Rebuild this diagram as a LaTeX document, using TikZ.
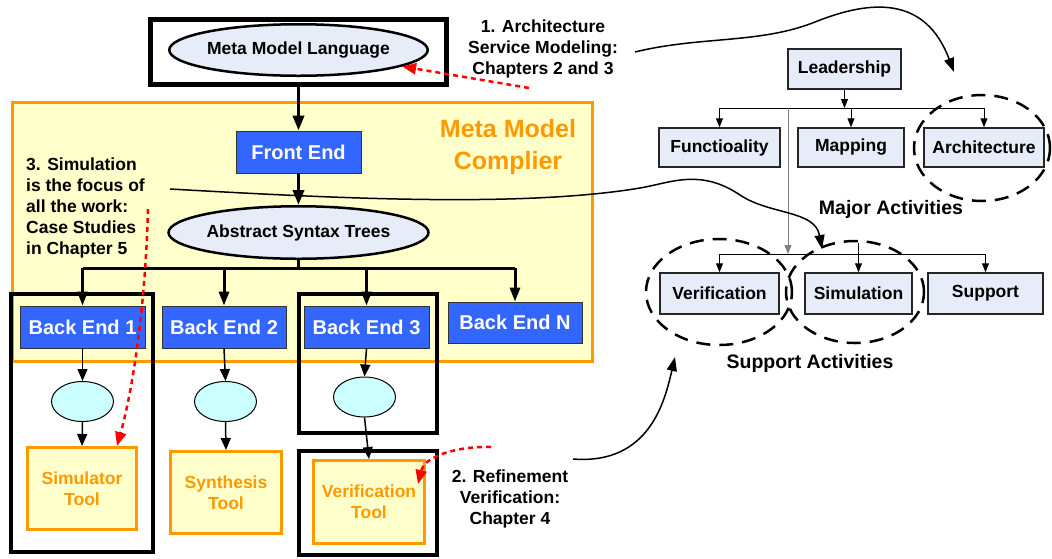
\documentclass[tikz,border=0pt]{standalone}
\usepackage{fontspec}
\setmainfont{Liberation Sans}
\usetikzlibrary{
    arrows.meta,
    shapes.geometric
}

\definecolor{boxgray}{RGB}{230,236,248}
\definecolor{beblue}{RGB}{51,102,255}
\definecolor{ovalcyan}{RGB}{204,255,255}
\definecolor{cmpyellow}{RGB}{255,255,204}
\definecolor{cmporange}{RGB}{255,153,0}

\begin{document}
\begin{tikzpicture}[x=1pt,y=-1pt,
    font=\bfseries\fontsize{17.5}{21}\selectfont,
    frame/.style={draw,line width=4.5pt,inner sep=0pt},
    bigoval/.style={ellipse,draw,line width=2.5pt,fill=boxgray,inner sep=0pt,minimum width=248.5pt},
    bluebox/.style={draw=black!80,line width=0.8pt,fill=beblue,text=white,inner sep=0pt,
        minimum height=42pt,font=\bfseries\fontsize{20}{24}\selectfont},
    smalloval/.style={ellipse,draw,line width=1pt,fill=ovalcyan,inner sep=0pt,
        minimum width=62pt,minimum height=40pt},
    tool/.style={draw=cmporange,line width=3pt,fill=cmpyellow,text=cmporange,align=center,
        inner sep=0pt,minimum width=109pt,minimum height=82pt},
    orgbox/.style={draw=black!85,line width=1.5pt,fill=boxgray,inner sep=0pt,minimum height=39pt},
    note/.style={inner sep=0pt},
    heavy/.style={line width=3.5pt,-{Triangle[length=15pt,width=11pt]}},
    bus/.style={line width=3pt},
    busarrow/.style={line width=3pt,-{Triangle[length=14pt,width=10pt]}},
    thinarrow/.style={line width=1.5pt,-{Triangle[length=12pt,width=10pt]}},
    orgline/.style={line width=1pt},
    orgarrow/.style={line width=1pt,-{Triangle[length=9pt,width=7pt]}},
    curvearrow/.style={line width=1.5pt,-{Triangle[length=14pt,width=10pt]}},
    reddash/.style={red,line width=2.5pt,dash pattern=on 5pt off 4pt,-{Triangle[length=14pt,width=11pt]}},
    ring/.style={draw,line width=2.5pt,dash pattern=on 14pt off 9pt}
]
\useasboundingbox (0,0) rectangle (1052,558);

% Compiler box
\node[draw=cmporange,line width=3pt,fill=cmpyellow,inner sep=0pt,
      minimum width=580pt,minimum height=259pt] (cmp) at (302.5,232) {};
\node[note,text=cmporange,align=center,font=\bfseries\fontsize{25}{32}\selectfont]
      (cmptitle) at (508,147.5) {Meta Model\\Complier};

% Frames
\node[frame,minimum width=296pt,minimum height=65pt] (mmlframe) at (298.5,52) {};
\node[frame,minimum width=142pt,minimum height=258pt] (frameA) at (82,423) {};
\node[frame,minimum width=138pt,minimum height=139pt] (frameB) at (368,363.5) {};
\node[frame,minimum width=138pt,minimum height=104pt] (frameC) at (368,503) {};

% Front part
\node[bigoval,minimum height=51.5pt] (mml) at (298.5,50) {Meta Model Language};
\node[bluebox,minimum width=125pt] (fe) at (298.5,152) {Front End};
\node[bigoval,minimum height=52.5pt] (ast) at (298.5,232.5) {Abstract Syntax Trees};

\draw[heavy] (mmlframe.south) -- (fe.north);
\draw[heavy] (fe.south) -- (ast.north);

% Back ends
\node[bluebox,minimum width=125pt] (be1) at (82.5,327) {Back End 1};
\node[bluebox,minimum width=124pt] (be2) at (224,327) {Back End 2};
\node[bluebox,minimum width=125pt] (be3) at (366.5,327) {Back End 3};
\node[bluebox,minimum width=134pt,minimum height=41pt] (ben) at (515,322.5) {Back End N};

\coordinate (split) at (298.5,268);
\draw[bus] (ast.south) -- (split);
\draw[bus] (be1.north |- split) -- (ben.north |- split);
\draw[busarrow] (be1.north |- split) -- (be1.north);
\draw[busarrow] (be2.north |- split) -- (be2.north);
\draw[busarrow] (be3.north |- split) -- (be3.north);
\draw[busarrow] (ben.north |- split) -- (ben.north);

% Tools
\node[smalloval] (ov1) at (82.5,401.5) {};
\node[smalloval] (ov2) at (225.5,401.5) {};
\node[smalloval] (ov3) at (364.5,397) {};

\node[tool] (simtool) at (82,488.5) {Simulator\\Tool};
\node[tool,minimum width=111pt] (syntool) at (226,492.5) {Synthesis\\Tool};
\node[tool,minimum width=111pt,minimum height=83pt] (vertool) at (369,502) {Verification\\Tool};

\draw[thinarrow] (be1.south) -- (ov1.north);
\draw[thinarrow] (ov1.south) -- (simtool.north);
\draw[thinarrow] (be2.south) -- (ov2.north);
\draw[thinarrow] (ov2.south) -- (syntool.north);
\draw[thinarrow] (be3.south) -- (ov3.north);
\draw[thinarrow] (ov3.south) -- (vertool.north);

% Notes
\node[note,align=center] (archnote) at (543,49) {1. Architecture\\Service Modeling:\\Chapters 2 and 3};
\node[note,align=left,anchor=west] (simnote) at (26,207.5)
      {3. Simulation\\is the focus of\\all the work:\\Case Studies\\in Chapter 5};
\node[note,align=center] (refnote) at (510,498.5) {2. Refinement\\Verification:\\Chapter 4};

% Activities
\node[orgbox,minimum width=113pt,minimum height=40pt] (lead) at (844.5,69) {Leadership};
\node[orgbox,minimum width=121pt] (fun) at (719.5,147.5) {Functioality};
\node[orgbox,minimum width=106pt] (map) at (851,147.5) {Mapping};
\node[orgbox,minimum width=120pt] (arch) at (984,147.5) {Architecture};
\node[note,anchor=base,font=\bfseries\fontsize{19.5}{23}\selectfont] (major) at (891,214) {Major Activities};

\node[orgbox,minimum width=119pt,minimum height=41pt] (veri) at (719.5,293.5) {Verification};
\node[orgbox,minimum width=107pt,minimum height=41pt] (simu) at (858.5,293.5) {Simulation};
\node[orgbox,minimum width=115pt,minimum height=41pt] (supp) at (985.5,293.5) {Support};
\node[note,anchor=base,font=\bfseries\fontsize{19.5}{23}\selectfont] (support) at (810,368) {Support Activities};

\coordinate (topbus) at (844.5,108);
\coordinate (lowbus) at (788,254);
\coordinate (greytop) at (788,108);
\coordinate (simtop) at (858.5,243);

\draw[orgarrow] (lead.south) -- (topbus);
\draw[orgline] (fun.north |- topbus) -- (arch.north |- topbus);
\draw[orgarrow] (fun.north |- topbus) -- (fun.north);
\draw[orgarrow] (map.north |- topbus) -- (map.north);
\draw[orgarrow] (arch.north |- topbus) -- (arch.north);
\draw[orgarrow,gray] (greytop) -- (lowbus);
\draw[orgline] (veri.north |- lowbus) -- (supp.north |- lowbus);
\draw[orgarrow] (veri.north |- lowbus) -- (veri.north);
\draw[orgarrow] (simtop) -- (simu.north);
\draw[orgarrow] (supp.north |- lowbus) -- (supp.north);

% Dashed rings
\node[ring,ellipse,minimum width=136pt,minimum height=106pt] (archring) at (982,148) {};
\node[ring,ellipse,minimum width=146pt,minimum height=106pt] (veriring) at (719,292) {};
\node[ring,ellipse,minimum width=138pt,minimum height=102pt] (simuring) at (855,292) {};

% Links from the notes
\coordinate (start1) at (635,52);
\coordinate (start2) at (573,459);
\coordinate (start3) at (170,189);
\draw[curvearrow] (start1) .. controls (700,36) and (760,44) .. (815,22)
                  .. controls (870,0) and (925,-5) .. (954,72);
\draw[curvearrow] (start3) .. controls (330,198) and (520,208) .. (640,188)
                  .. controls (670,183) and (700,168) .. (740,195)
                  .. controls (770,215) and (815,210) .. (822,249);
\draw[curvearrow] (start2) .. controls (650,465) and (665,400) .. (675,357);

% Red pointers
\coordinate (red1) at (529,88);
\coordinate (red2) at (491,447);
\coordinate (red3) at (148,209);
\coordinate (simtip) at (117,446);
\coordinate (vertip) at (418,484);
\draw[reddash] (red1) -- (mml.-9.4);
\draw[reddash] (red3) .. controls (145,320) and (130,400) .. (simtip);
\draw[reddash] (red2) .. controls (460,446) and (425,455) .. (vertip);

\end{tikzpicture}
\end{document}
